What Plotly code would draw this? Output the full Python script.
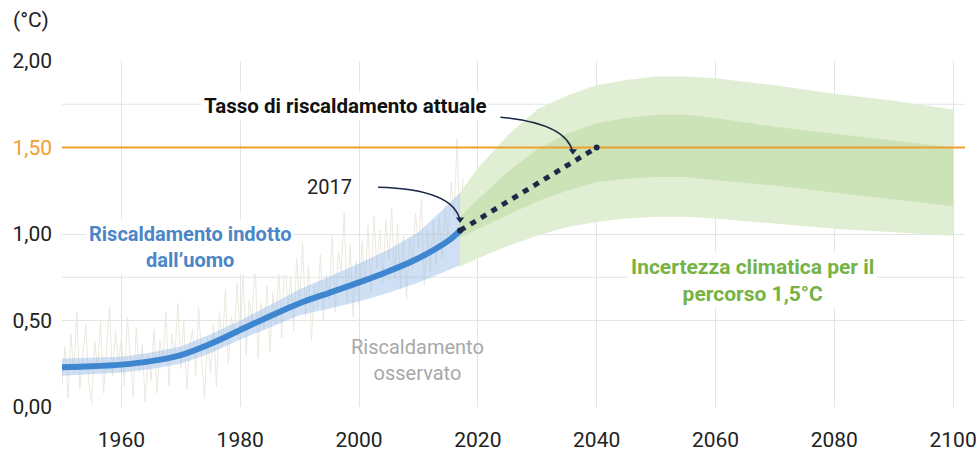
import plotly.graph_objects as go

# ---------------- data ----------------
# Human-induced warming (central estimate and likely range), 1950-2017
human_years = [1950, 1955, 1960, 1965, 1970, 1975, 1980, 1985, 1990, 1995, 2000, 2005, 2010, 2015, 2017]
human_mid = [0.23, 0.235, 0.245, 0.265, 0.30, 0.365, 0.445, 0.525, 0.60, 0.66, 0.72, 0.785, 0.86, 0.96, 1.02]
human_hi = [0.28, 0.285, 0.29, 0.315, 0.35, 0.42, 0.50, 0.59, 0.68, 0.755, 0.83, 0.91, 1.01, 1.17, 1.24]
human_lo = [0.18, 0.19, 0.20, 0.22, 0.25, 0.31, 0.39, 0.46, 0.53, 0.57, 0.61, 0.66, 0.72, 0.79, 0.82]

# Observed warming, half-yearly values 1950.0 - 2017.5
obs_start = 1950.0
obs_step = 0.5
obs_vals = [
    0.12, 0.35, 0.05, 0.42, 0.20, 0.55, 0.10, 0.30, 0.48, 0.15,
    0.02, 0.38, 0.22, 0.50, 0.08, 0.33, 0.58, 0.18, 0.44, 0.25,
    0.40, 0.12, 0.52, 0.28, 0.06, 0.46, 0.20, 0.36, 0.03, 0.30,
    0.15, 0.45, 0.08, 0.38, 0.26, 0.55, 0.12, 0.42, 0.30, 0.60,
    0.22, 0.50, 0.10, 0.35, 0.45, 0.18, 0.58, 0.28, 0.05, 0.40,
    0.20, 0.48, 0.12, 0.55, 0.35, 0.68, 0.25, 0.52, 0.42, 0.72,
    0.38, 0.78, 0.30, 0.62, 0.50, 0.85, 0.28, 0.60, 0.45, 0.70,
    0.32, 0.66, 0.48, 0.80, 0.40, 0.92, 0.55, 0.75, 0.44, 0.86,
    0.60, 0.95, 0.52, 0.82, 0.38, 0.70, 0.58, 0.88, 0.50, 0.76,
    0.62, 1.00, 0.55, 0.90, 0.78, 1.12, 0.60, 0.94, 0.52, 0.84,
    0.58, 0.96, 0.70, 1.05, 0.66, 1.10, 0.80, 1.02, 0.72, 1.08,
    0.85, 1.15, 0.74, 1.06, 0.68, 1.00, 0.62, 0.98, 0.80, 1.12,
    0.92, 1.20, 0.70, 1.02, 0.78, 1.08, 0.82, 1.10, 0.86, 1.16,
    0.95, 1.30, 1.10, 1.55, 0.98, 1.32,
]
obs_years = [obs_start + i * obs_step for i in range(len(obs_vals))]

# Climate uncertainty for the 1.5 °C pathway, 2017-2100
path_years = [2017, 2020, 2025, 2030, 2035, 2040, 2045, 2050, 2055, 2060, 2070, 2080, 2090, 2100]
outer_hi = [1.24, 1.38, 1.57, 1.72, 1.80, 1.86, 1.89, 1.91, 1.91, 1.90, 1.86, 1.81, 1.77, 1.72]
outer_lo = [0.81, 0.86, 0.93, 0.99, 1.04, 1.07, 1.09, 1.10, 1.10, 1.09, 1.06, 1.03, 1.01, 0.99]
inner_hi = [1.10, 1.20, 1.36, 1.49, 1.58, 1.64, 1.67, 1.69, 1.69, 1.67, 1.62, 1.58, 1.54, 1.50]
inner_lo = [0.98, 1.03, 1.11, 1.19, 1.25, 1.30, 1.32, 1.33, 1.33, 1.31, 1.28, 1.24, 1.20, 1.16]

# Current warming rate extrapolated from 2017
rate_years = [2017, 2040]
rate_vals = [1.02, 1.50]

target_level = 1.5
x_range = [1950, 2102]

x_ticks = [1960, 1980, 2000, 2020, 2040, 2060, 2080, 2100]
y_ticks = [0.0, 0.5, 1.0, 1.5, 2.0]
y_labels = ["0,00", "0,50", "1,00", "1,50", "2,00"]
extra_grid = [0.75, 1.75]

# ---------------- style ----------------
FONT = "Roboto, Liberation Sans Narrow, DejaVu Sans, sans-serif"
NAVY = "#1b2a47"
BLUE = "#3f86d1"
ORANGE = "#f0a030"
GRID = "#e4e4e4"

fig = go.Figure()

# observed (pale, thin)
fig.add_trace(go.Scatter(x=obs_years, y=obs_vals, mode="lines",
                         line=dict(color="#ebe9df", width=1), hoverinfo="skip"))

# green uncertainty bands
fig.add_trace(go.Scatter(x=path_years, y=outer_lo, mode="lines", line=dict(width=0),
                         hoverinfo="skip"))
fig.add_trace(go.Scatter(x=path_years, y=outer_hi, mode="lines", line=dict(width=0),
                         fill="tonexty", fillcolor="#e0eed3", hoverinfo="skip"))
fig.add_trace(go.Scatter(x=path_years, y=inner_lo, mode="lines", line=dict(width=0),
                         hoverinfo="skip"))
fig.add_trace(go.Scatter(x=path_years, y=inner_hi, mode="lines", line=dict(width=0),
                         fill="tonexty", fillcolor="#cbe3b6", hoverinfo="skip"))

# blue likely range
fig.add_trace(go.Scatter(x=human_years, y=human_lo, mode="lines", line=dict(width=0),
                         hoverinfo="skip"))
fig.add_trace(go.Scatter(x=human_years, y=human_hi, mode="lines", line=dict(width=0),
                         fill="tonexty", fillcolor="rgba(140,180,232,0.42)", hoverinfo="skip"))

# 1.5 °C level
fig.add_trace(go.Scatter(x=x_range, y=[target_level, target_level], mode="lines",
                         line=dict(color=ORANGE, width=2.2), hoverinfo="skip"))

# human-induced warming
fig.add_trace(go.Scatter(x=human_years, y=human_mid, mode="lines",
                         line=dict(color=BLUE, width=6, shape="spline"), hoverinfo="skip"))

# extrapolated current rate (dotted)
fig.add_trace(go.Scatter(x=rate_years, y=rate_vals, mode="lines",
                         line=dict(color=NAVY, width=5, dash="6px,6.3px"), hoverinfo="skip"))
fig.add_trace(go.Scatter(x=rate_years, y=rate_vals, mode="markers",
                         marker=dict(color=NAVY, size=6), hoverinfo="skip"))

# curved pointer arrows
def curved_arrow(x0, y0, cx, cy, x1, y1, hx, hy):
    fig.add_shape(type="path", xref="x", yref="y",
                  path=f"M {x0},{y0} Q {cx},{cy} {x1},{y1}",
                  line=dict(color=NAVY, width=1.6), layer="above")
    fig.add_shape(type="path", xref="x", yref="y",
                  path=f"M {x1 - hx},{y1 + hy} L {x1 + hx},{y1 + hy} L {x1},{y1 - 0.012} Z",
                  line=dict(width=0), fillcolor=NAVY, layer="above")

curved_arrow(2003.2, 1.27, 2016.0, 1.26, 2017.0, 1.075, 0.7, 0.02)
curved_arrow(2023.8, 1.675, 2035.0, 1.64, 2036.0, 1.47, 0.7, 0.02)

# additional horizontal guides
for g in extra_grid:
    fig.add_shape(type="line", xref="paper", x0=0, x1=1, yref="y", y0=g, y1=g,
                  line=dict(color=GRID, width=1), layer="below")

# ---------------- labels ----------------
def label(text, x, y, color, size=19, bold=False, bg=None):
    if bold:
        text = "<b>" + text.replace("<br>", "</b><br><b>") + "</b>"
    fig.add_annotation(text=text, x=x, y=y, xref="x", yref="y", showarrow=False,
                       font=dict(family=FONT, size=size, color=color),
                       bgcolor=bg, borderpad=2, align="center")

label("Tasso di riscaldamento attuale", 1997.6, 1.74, "#111111", 20.5, True, "white")
label("2017", 1995.0, 1.27, "#222222", 20)
label("Riscaldamento indotto<br>dall’uomo", 1971.6, 0.925, "#4a86c8", 20, True, "white")
label("Incertezza climatica per il<br>percorso 1,5°C", 2066.3, 0.73, "#76b244", 21, True, "white")
label("Riscaldamento<br>osservato", 2009.9, 0.27, "#a8a8a8", 20)

fig.add_annotation(text="(°C)", xref="paper", yref="paper", x=-0.0343, y=1.118,
                   xanchor="center", yanchor="middle",
                   showarrow=False, font=dict(family=FONT, size=21, color="#222222"))

tick_text = []
for v, t in zip(y_ticks, y_labels):
    if v == target_level:
        tick_text.append(f"<span style='color:{ORANGE}'>{t}</span>")
    else:
        tick_text.append(t)

fig.update_layout(
    width=976, height=461,
    margin=dict(l=62, r=11, t=61, b=54, autoexpand=False),
    paper_bgcolor="white", plot_bgcolor="white",
    showlegend=False,
    font=dict(family=FONT, size=21, color="#222222"),
    xaxis=dict(range=x_range, tickvals=x_ticks, showgrid=True, gridcolor=GRID, gridwidth=1,
               zeroline=False, showline=False, ticks="", ticklabelstandoff=18,
               ticklabeloverflow="allow", automargin=False,
               tickfont=dict(family=FONT, size=21, color="#222222")),
    yaxis=dict(range=[0, 2.0], tickvals=y_ticks, ticktext=tick_text, showgrid=True,
               gridcolor=GRID, gridwidth=1, zeroline=False, showline=False, ticks="",
               ticklabelstandoff=9, automargin=False,
               tickfont=dict(family=FONT, size=21, color="#222222")),
)

fig.write_html("out.html")
